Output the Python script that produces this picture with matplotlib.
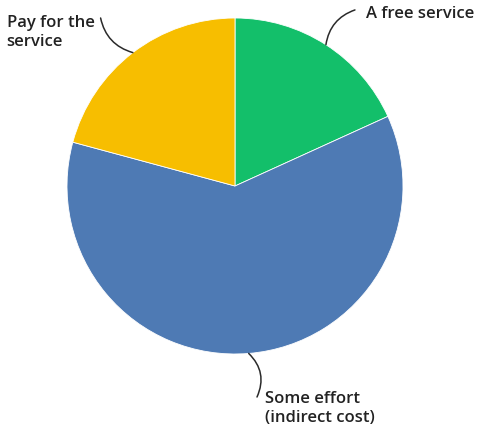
import numpy as np
import matplotlib.pyplot as plt

labels = ["A free service", "Some effort\n(indirect cost)", "Pay for the\nservice"]
shares = [18.2, 61.0, 20.8]
colors = ["#13bf6a", "#4e7ab4", "#f7be00"]

plt.rcParams['font.family'] = ['Open Sans', 'DejaVu Sans']

fig = plt.figure(figsize=(4.78, 4.27), dpi=100)
ax = fig.add_axes([67/478, 72/427, 336/478, 336/427])

wedges, _ = ax.pie(shares, colors=colors, startangle=90, counterclock=False,
                   radius=1, wedgeprops=dict(edgecolor='white', linewidth=0.6))
ax.set_xlim(-1, 1)
ax.set_ylim(-1, 1)
ax.set_aspect('auto')

# label text positions and where each leader line starts
text_pos = [(0.78, 1.03, 'left'), (0.18, -1.32, 'left'), (-1.36, 0.92, 'left')]
line_start = [(0.714, 1.048), (0.131, -1.256), (-0.80, 1.0)]
rads = [0.3, 0.35, 0.3]

for w, lab, (tx, ty, ha), (sx, sy), rad in zip(wedges, labels, text_pos, line_start, rads):
    mid = np.deg2rad((w.theta1 + w.theta2) / 2)
    edge = (np.cos(mid), np.sin(mid))
    ax.annotate('', xy=edge, xytext=(sx, sy),
                arrowprops=dict(arrowstyle='-', color='#2a2a2a', lw=1.1,
                                shrinkA=0, shrinkB=0,
                                connectionstyle=f'arc3,rad={rad}'),
                annotation_clip=False)
    ax.text(tx, ty, lab, ha=ha, va='center', fontsize=12, color='#222222',
            fontweight='semibold', linespacing=1.25)

fig.savefig('out.png', dpi=100)
